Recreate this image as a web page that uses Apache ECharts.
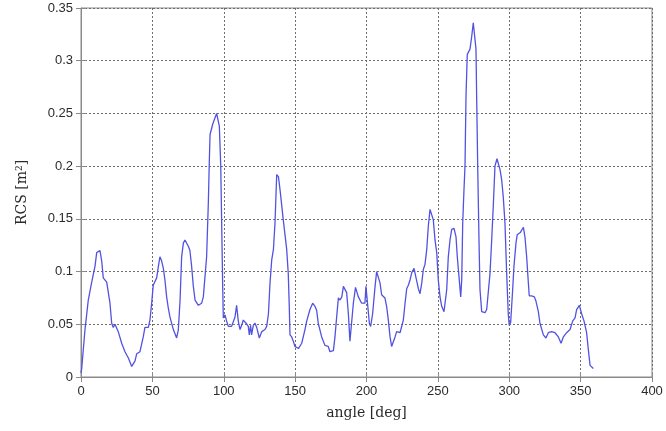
<!DOCTYPE html>
<html>
<head>
<meta charset="utf-8">
<script src="https://cdn.jsdelivr.net/npm/echarts@6/dist/echarts.min.js"></script>
<style>
  html, body { margin: 0; padding: 0; background: #fff; }
  #chart { width: 666px; height: 431px; }
</style>
</head>
<body>
<div id="chart"></div>
<script>
// angle [deg] / RCS [m^2]
var angles = [0, 0.5, 2.8, 5.1, 7.5, 9.8, 11, 13.3, 14.5, 15.6, 18, 20.3, 21.5, 22.6, 23.8, 26.1, 28.5, 30.8, 33.2, 35.5, 36.7, 37.8, 39, 41.3, 43.6, 44.8, 47.2, 48.3, 49.5, 50.6,
  53, 54.2, 55.3, 56.5, 57.7, 58.8, 60, 61.2, 62.3, 64.7, 67, 68.2, 69.4, 70.5, 71.7, 72.8, 75.2, 76.3, 77.5, 78.7, 79.9, 82.2, 84.5, 85.7, 86.9, 88, 89.2, 89.8, 90.4, 92.3,
  95, 96.9, 97.9, 99.3, 99.7, 100.9, 102, 103.2, 105.5, 107.9, 109, 110.2, 111.4, 112.5, 113.7, 115.6, 117.2, 117.9, 118.8, 119.5, 120.7, 121.9, 123.1, 124.9, 126.6, 127.8, 128.9, 130.1, 131.3, 132.4,
  133.6, 134.8, 135.9, 137.1, 138.3, 139.4, 141.7, 144.1, 145.2, 145.9, 146.4, 147.6, 148.7, 149.9, 152.3, 154.6, 156.9, 158.1, 160.4, 162.3, 163.9, 165.1, 166.2, 168.6, 170.9, 173.2, 174.4, 176.8,
  177.9, 179.1, 180.3, 181.5, 182.7, 183.8, 185, 186.1, 187.3, 188.4, 189.6, 190.8, 192.3, 194.3, 196.6, 198.9, 199.6, 200.5, 202, 202.9, 204.3, 206, 207.1, 208.3, 209.5, 210.6, 212.9, 214.1,
  215.3, 216.5, 217.6, 218.8, 220, 221.1, 223.5, 224.7, 225.8, 227, 228.2, 229.3, 230.5, 231.7, 233.3, 234.7, 236.3, 237.5, 238.7, 239.8, 241, 242.2, 243.3, 244.5, 245.7, 246.8, 248, 249.2,
  250.3, 251.5, 252.7, 254.3, 256.2, 257.3, 258.5, 259.7, 261.3, 262.7, 263.6, 264.8, 266, 266.7, 267.4, 268.3, 269, 269.7, 270.6, 272.5, 273.7, 274.8, 276, 276.7, 277.2, 277.9, 278.8, 279.5,
  280.7, 283, 284.2, 286.5, 287.7, 288.8, 290, 291.4, 293.5, 294.7, 295.8, 297, 298.2, 299.3, 300, 301, 302.4, 303.3, 304.7, 305.6, 307.7, 308.8, 309.9, 311, 312.2, 313.4, 314, 315.7,
  317.6, 318.7, 320.4, 321.5, 323.9, 325.7, 327.4, 329.7, 332, 334.4, 336.3, 337.9, 340.2, 342.6, 344.4, 346.1, 347.2, 349.1, 350.7, 352.4, 354.2, 355.4, 356.6, 358.9];
var rcs = [0.004, 0.008, 0.045, 0.073, 0.09, 0.105, 0.118, 0.12, 0.11, 0.094, 0.09, 0.07, 0.051, 0.047, 0.05, 0.043, 0.032, 0.024, 0.018, 0.01, 0.009, 0.015, 0.022, 0.024, 0.038, 0.047, 0.047, 0.054, 0.07, 0.087,
  0.094, 0.105, 0.114, 0.11, 0.103, 0.092, 0.076, 0.065, 0.057, 0.045, 0.037, 0.045, 0.073, 0.114, 0.127, 0.13, 0.124, 0.12, 0.105, 0.086, 0.073, 0.068, 0.07, 0.076, 0.075, 0.114, 0.165, 0.2, 0.23, 0.24,
  0.25, 0.238, 0.2, 0.083, 0.056, 0.059, 0.053, 0.048, 0.048, 0.057, 0.068, 0.053, 0.045, 0.049, 0.054, 0.051, 0.048, 0.04, 0.049, 0.04, 0.049, 0.051, 0.047, 0.037, 0.043, 0.042, 0.045, 0.048, 0.06, 0.089,
  0.111, 0.121, 0.146, 0.192, 0.19, 0.178, 0.149, 0.121, 0.098, 0.067, 0.04, 0.038, 0.034, 0.029, 0.027, 0.032, 0.045, 0.053, 0.064, 0.07, 0.067, 0.063, 0.051, 0.038, 0.03, 0.029, 0.024, 0.025,
  0.038, 0.057, 0.075, 0.073, 0.076, 0.086, 0.087, 0.08, 0.06, 0.034, 0.034, 0.07, 0.085, 0.076, 0.07, 0.07, 0.086, 0.073, 0.051, 0.048, 0.06, 0.086, 0.1, 0.099, 0.089, 0.078, 0.075, 0.067,
  0.054, 0.038, 0.029, 0.03, 0.038, 0.043, 0.042, 0.043, 0.054, 0.07, 0.084, 0.087, 0.092, 0.099, 0.103, 0.094, 0.084, 0.079, 0.089, 0.102, 0.107, 0.121, 0.143, 0.159, 0.16, 0.149, 0.13, 0.118,
  0.092, 0.076, 0.067, 0.062, 0.083, 0.114, 0.13, 0.14, 0.141, 0.133, 0.114, 0.095, 0.076, 0.092, 0.146, 0.178, 0.2, 0.266, 0.306, 0.311, 0.323, 0.336, 0.336, 0.311, 0.263, 0.2, 0.13, 0.083,
  0.062, 0.061, 0.064, 0.098, 0.13, 0.162, 0.2, 0.207, 0.197, 0.187, 0.171, 0.146, 0.098, 0.06, 0.049, 0.052, 0.083, 0.105, 0.127, 0.135, 0.137, 0.137, 0.142, 0.133, 0.114, 0.089, 0.077, 0.077,
  0.076, 0.072, 0.062, 0.051, 0.04, 0.037, 0.042, 0.043, 0.042, 0.038, 0.032, 0.038, 0.042, 0.045, 0.053, 0.056, 0.064, 0.068, 0.06, 0.053, 0.042, 0.026, 0.011, 0.008];

var pts = angles.map(function (a, i) { return [a, rcs[i]]; });

var chart = echarts.init(document.getElementById('chart'));

var gridLine = { show: true, lineStyle: { color: '#6e6e6e', type: [2, 2], width: 1 } };
var labelFont = { color: '#2b2b2b', fontSize: 13, fontFamily: 'Liberation Sans, Arial, sans-serif' };

chart.setOption({
  animation: false,
  grid: { left: 81, right: 14, top: 8, bottom: 54, show: true, borderColor: '#8a8a8a', borderWidth: 1 },
  xAxis: [{
    type: 'value', min: 0, max: 400, interval: 50,
    name: 'angle [deg]', nameLocation: 'middle', nameGap: 29,
    nameTextStyle: { fontFamily: 'DejaVu Serif, serif', fontSize: 14, color: '#2b2b2b' },
    axisLine: { show: true, lineStyle: { color: '#8a8a8a' } },
    axisTick: { show: true, inside: true, length: 5, lineStyle: { color: '#8a8a8a' } },
    axisLabel: Object.assign({ margin: 8 }, labelFont),
    splitLine: gridLine
  }, {
    type: 'value', min: 0, max: 400, interval: 50, position: 'top',
    axisLine: { show: false },
    axisTick: { show: true, inside: true, length: 5, lineStyle: { color: '#8a8a8a' } },
    axisLabel: { show: false }, splitLine: { show: false }
  }],
  yAxis: [{
    type: 'value', min: 0, max: 0.35, interval: 0.05,
    name: '{n|RCS [m}{s|2}{n|]}', nameLocation: 'middle', nameGap: 51,
    nameTextStyle: {
      rich: {
        n: { fontFamily: 'DejaVu Serif, serif', fontSize: 14, color: '#2b2b2b' },
        s: { fontFamily: 'DejaVu Serif, serif', fontSize: 9, color: '#2b2b2b', verticalAlign: 'top', padding: [0, 0, 6, 0] }
      }
    },
    axisLine: { show: true, lineStyle: { color: '#8a8a8a' } },
    axisTick: { show: true, inside: true, length: 5, lineStyle: { color: '#8a8a8a' } },
    axisLabel: Object.assign({ margin: 8 }, labelFont),
    splitLine: gridLine
  }, {
    type: 'value', min: 0, max: 0.35, interval: 0.05, position: 'right',
    axisLine: { show: false },
    axisTick: { show: true, inside: true, length: 5, lineStyle: { color: '#8a8a8a' } },
    axisLabel: { show: false }, splitLine: { show: false }
  }],
  series: [{
    type: 'line',
    data: pts,
    showSymbol: false,
    smooth: false,
    lineStyle: { color: '#5252e2', width: 1.3 }
  }]
});
</script>
</body>
</html>
